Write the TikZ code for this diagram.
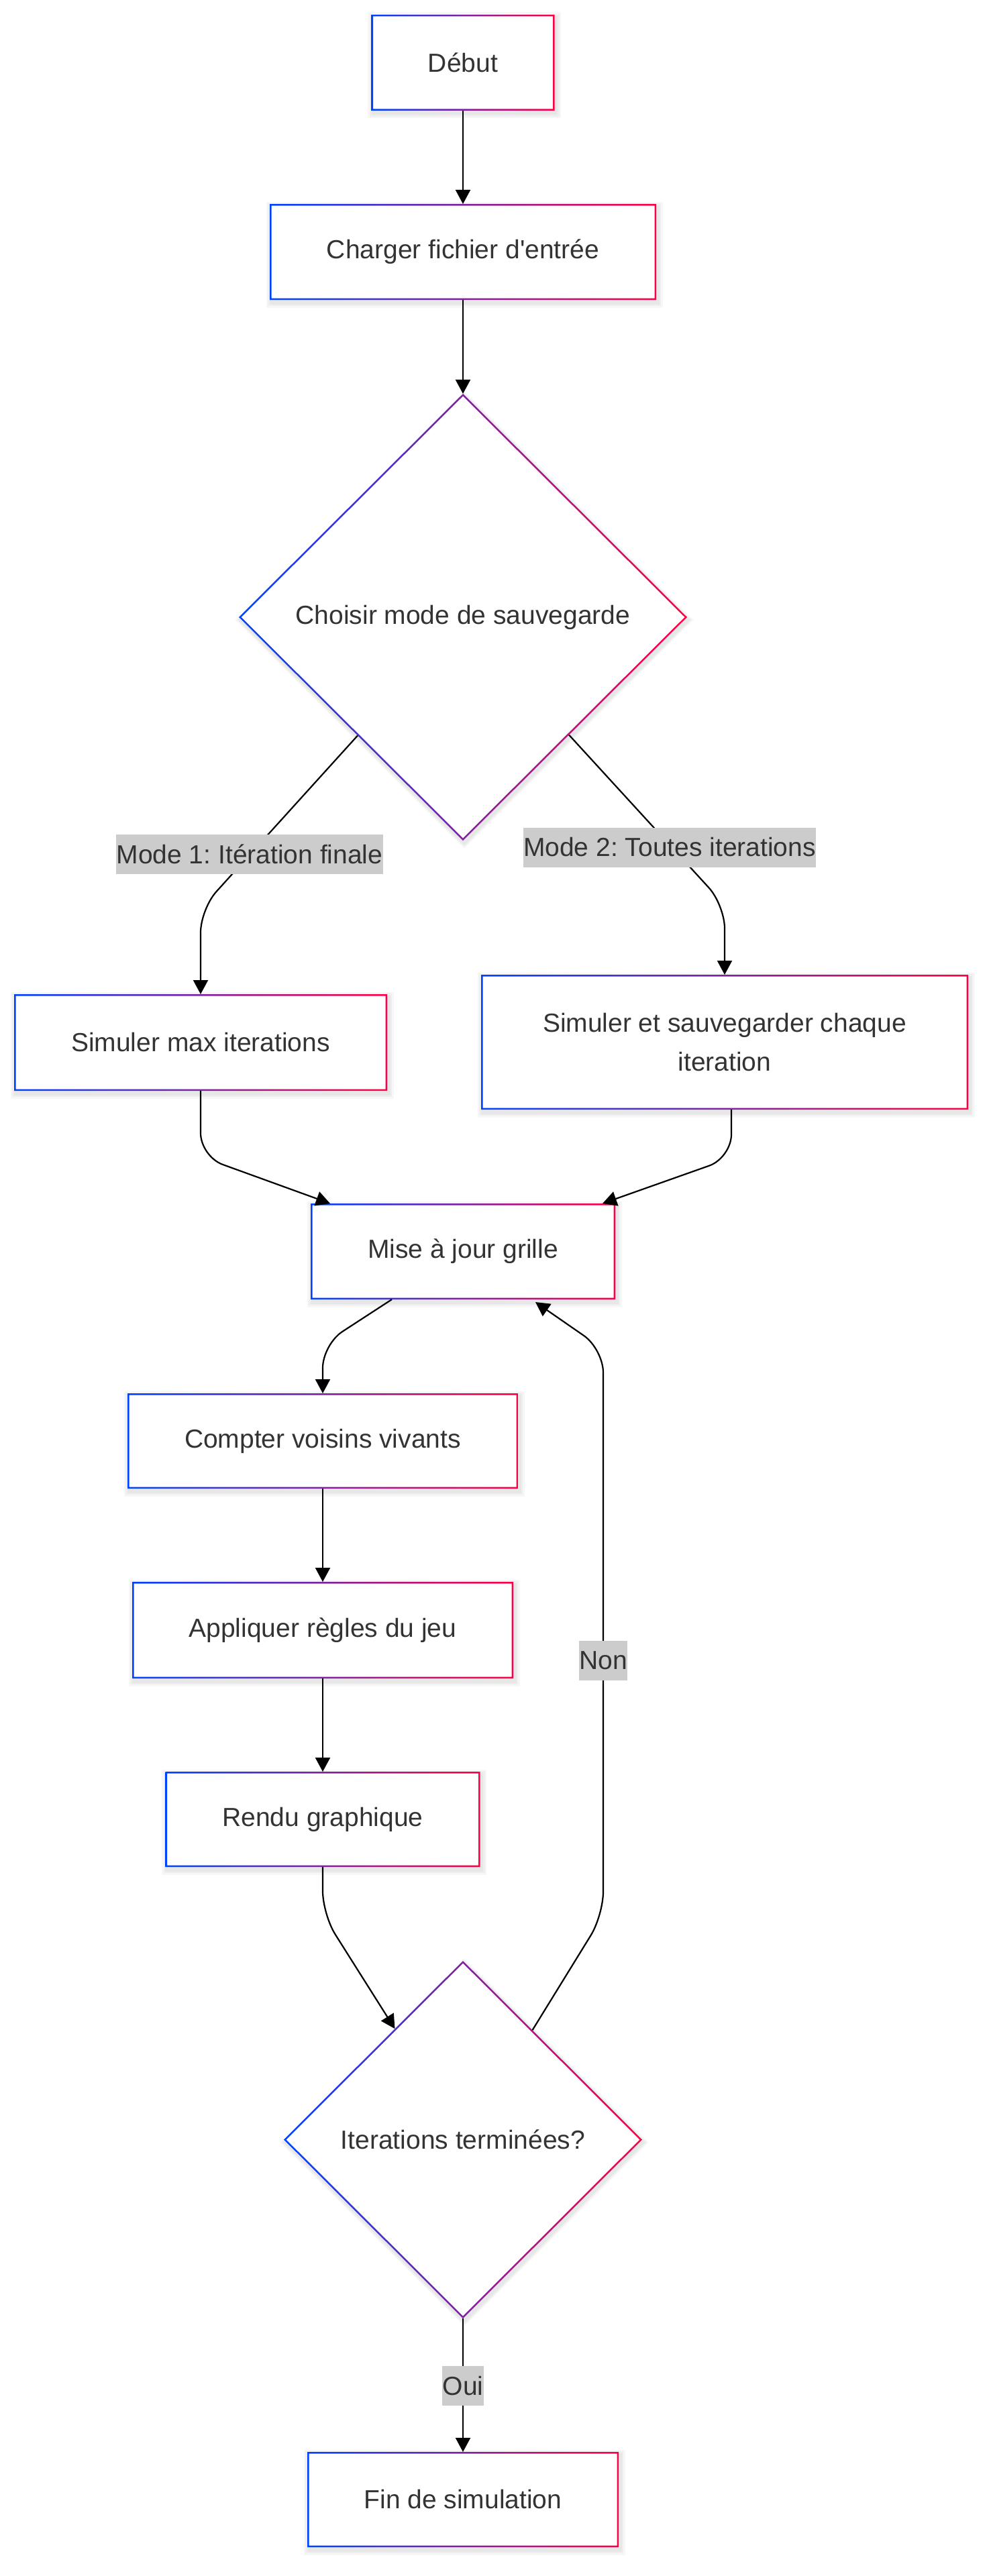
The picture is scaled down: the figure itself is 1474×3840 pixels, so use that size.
\documentclass[tikz,border=0pt]{standalone}
\usepackage{fontspec}
\setmainfont{Liberation Sans}[Ligatures=TeXOff]
\usetikzlibrary{shapes.geometric,arrows.meta}
\definecolor{gb}{HTML}{0043FF}
\definecolor{gr}{HTML}{FF0044}
\definecolor{txt}{HTML}{333333}
\definecolor{lblbg}{HTML}{CCCCCC}
\frenchspacing
\tikzset{
  boxn/.style={rectangle, fill=white, draw=none, inner sep=0pt, outer sep=0pt, text=txt,
    font=\fontsize{39pt}{58pt}\selectfont, align=center},
  dian/.style={diamond, aspect=1, fill=white, draw=none, inner sep=0pt, outer sep=0pt, text=txt,
    font=\fontsize{39pt}{58pt}\selectfont, align=center},
  edge/.style={draw=black, line width=2.2pt, rounded corners=35pt,
    -{Triangle[length=21pt,width=22pt]}},
  lbl/.style={fill=lblbg, text=txt, font=\fontsize{39pt}{47pt}\selectfont,
    inner xsep=0.5pt, inner ysep=0pt, minimum height=59pt, outer sep=0pt}
}
% name, cx, cy, w, h, text
\newcommand\gboxnode[6]{%
  \foreach \k in {1,2,3}{\fill[black,opacity=0.03] (#2-#4/2+2-2.5*\k, #3-#5/2+4-2.5*\k) rectangle (#2+#4/2+2+2.5*\k, #3+#5/2+4+2.5*\k);}
  \node[boxn, minimum width=#4pt, minimum height=#5pt] (#1) at (#2,#3) {#6};
  \shade[left color=gb, right color=gr, even odd rule] (#1.north west) rectangle (#1.south east)
    ([shift={(2.5pt,-2.5pt)}]#1.north west) rectangle ([shift={(-2.5pt,2.5pt)}]#1.south east);
}
\newcommand\gdianode[6]{%
  \foreach \k in {1,2,3}{\fill[black,opacity=0.03] (#2+2, #3-#5/2+4-2.5*\k) -- (#2+#4/2+2+2.5*\k, #3+4) -- (#2+2, #3+#5/2+4+2.5*\k) -- (#2-#4/2+2-2.5*\k, #3+4) -- cycle;}
  \node[dian, minimum width=#4pt, minimum height=#5pt] (#1) at (#2,#3) {#6};
  \shade[left color=gb, right color=gr, even odd rule] (#1.north) -- (#1.east) -- (#1.south) -- (#1.west) -- cycle
    ([yshift=-3.5pt]#1.north) -- ([xshift=-3.5pt]#1.east) -- ([yshift=3.5pt]#1.south) -- ([xshift=3.5pt]#1.west) -- cycle;
}
\begin{document}
\begin{tikzpicture}[x=1pt, y=-1pt]
\fill[white] (0,0) rectangle (1474,3840);
\useasboundingbox (0,0) rectangle (1474,3840);

\gboxnode{debut}{690}{93.5}{273}{143}{Début}
\gboxnode{charger}{690}{375.5}{576}{143}{Charger fichier d'entrée}
\gdianode{choix}{690}{920}{668}{666}{Choisir mode de sauvegarde}
\gboxnode{simmax}{299}{1554}{556}{144}{Simuler max iterations}
\gboxnode{simsauv}{1080}{1553.5}{726}{201}{Simuler et sauvegarder chaque\\iteration}
\gboxnode{mise}{690}{1865.5}{454}{143}{Mise à jour grille}
\gboxnode{compter}{481}{2148}{582}{142}{Compter voisins vivants}
\gboxnode{appliquer}{481}{2430}{568}{144}{Appliquer règles du jeu}
\gboxnode{rendu}{481}{2712}{469}{142}{Rendu graphique}
\gdianode{fin2}{690}{3189.5}{534}{533}{Iterations terminées?}
\gboxnode{fin}{690}{3726}{464}{142}{Fin de simulation}

\coordinate (nonA) at (899,2855);
\coordinate (nonB) at (899,2011);

\draw[edge] (debut) -- (charger);
\draw[edge] (charger) -- (choix);
\draw[edge] ([shift={(10pt,-10pt)}]choix.south west) -- ([yshift=127pt]simmax.north) -- (simmax.north);
\draw[edge] ([shift={(-9pt,-9pt)}]choix.south east) -- ([yshift=104pt]simsauv.north) -- (simsauv.north);
\draw[edge] (simmax.south) -- ([yshift=-98pt]simmax.south) -- ([xshift=29pt]mise.north west);
\draw[edge] ([xshift=10pt]simsauv.south) -- ([shift={(10pt,-72pt)}]simsauv.south) -- ([xshift=-19pt]mise.north east);
\draw[edge] ([xshift=-106pt]mise.south) -- ([yshift=73pt]compter.north) -- (compter.north);
\draw[edge] (compter) -- (appliquer);
\draw[edge] (appliquer) -- (rendu);
\draw[edge] (rendu.south) -- ([yshift=-71pt]rendu.south) -- ([shift={(32pt,32pt)}]fin2.north west);
\draw[edge] ([shift={(-30pt,30pt)}]fin2.north east) -- (nonA) -- (nonB) -- ([shift={(108pt,-4pt)}]mise.south);
\draw[edge] (fin2) -- (fin);

\node[lbl] (l1) at (372,1273.5) {Mode 1: Itération finale};
\node[lbl] (l2) at (998,1263) {Mode 2: Toutes iterations};
\node[lbl] (l3) at (899,2475) {Non};
\node[lbl] (l4) at (690,3556.5) {Oui};
\end{tikzpicture}
\end{document}
